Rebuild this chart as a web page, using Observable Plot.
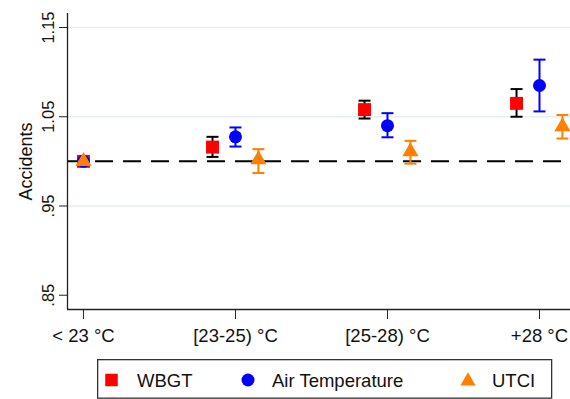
<!DOCTYPE html>
<html>
<head>
<meta charset="utf-8">
<script src="https://cdn.jsdelivr.net/npm/d3@7"></script>
<script src="https://cdn.jsdelivr.net/npm/@observablehq/plot@0.6"></script>
<style>
  html, body { margin: 0; padding: 0; background: white; }
  #wrap { position: relative; width: 570px; height: 399px; font-family: "Liberation Sans", Arial, Helvetica, sans-serif; }
  #legend { position: absolute; left: 97px; top: 359px; }
</style>
</head>
<body>
<div id="wrap"><div id="chart"></div><div id="legend"></div></div>
<script>
// Data
const categories = ["< 23 °C", "[23-25) °C", "[25-28) °C", "+28 °C"];
const seriesNames = ["WBGT", "Air Temperature", "UTCI"];
const seriesColors = ["#ff0000", "#0000ff", "#ff7f00"];
const ciColors = ["#000000", "#0000ff", "#ff7f00"];

const wbgt   = [1.000, 1.016, 1.058, 1.065];
const wbgtLo = [1.000, 1.005, 1.048, 1.050];
const wbgtHi = [1.000, 1.0275, 1.068, 1.081];

const air    = [1.000, 1.0275, 1.040, 1.085];
const airLo  = [1.000, 1.0166, 1.027, 1.056];
const airHi  = [1.000, 1.038, 1.054, 1.114];

const utci   = [1.000, 1.002, 1.011, 1.039];
const utciLo = [1.000, 0.987, 0.9975, 1.0256];
const utciHi = [1.000, 1.0137, 1.023, 1.052];

const yTicks = [0.85, 0.95, 1.05, 1.15];
const yTickLabels = [".85", ".95", "1.05", "1.15"];
const gridTicks = [0.95, 1.05, 1.15];
const yLabel = "Accidents";
const refLine = 1;

// build table
const est = [wbgt, air, utci], lo = [wbgtLo, airLo, utciLo], hi = [wbgtHi, airHi, utciHi];
const shift = [-0.151, 0, 0.151];
const rows = [];
seriesNames.forEach((s, si) => {
  categories.forEach((c, ci) => {
    rows.push({series: s, si, cat: ci, x: ci === 0 ? 0 : ci + shift[si],
               v: est[si][ci], lo: lo[si][ci], hi: hi[si][ci]});
  });
});

const xDomain = [-0.105, 3.204];
const yDomain = [0.834, 1.1657];

const capSymbol = { draw(ctx) { ctx.moveTo(-6, 0); ctx.lineTo(6, 0); } };
const symbols = ["square", "circle", "triangle"];
const radii = [7.3, 6.5, 6.0];

const marks = [
  Plot.ruleY(gridTicks, {stroke: "#e6eef1", strokeWidth: 1.5}),
  Plot.ruleY([refLine], {stroke: "#000", strokeWidth: 2, strokeDasharray: "18,10"}),
  Plot.ruleX([xDomain[0]], {stroke: "#222", strokeWidth: 1.3}),
  Plot.ruleY([yDomain[0]], {stroke: "#222", strokeWidth: 1.3}),
  Plot.axisY({ticks: yTicks, tickSize: 8, tickFormat: () => "", stroke: "#222", label: null}),
  Plot.text(yTicks, {x: xDomain[0], y: d => d, text: (d, i) => yTickLabels[i], rotate: -90, dx: -19, fontSize: 16.5, fill: "#111"}),
  Plot.text([yLabel], {frameAnchor: "left", rotate: -90, dx: -41, fontSize: 18, textAnchor: "middle", fill: "#111"}),
  Plot.axisX({ticks: [0, 1, 2, 3], tickFormat: i => categories[i], tickSize: 10, tickPadding: 9, fontSize: 18.5, stroke: "#222", fill: "#111", label: null})
];
seriesNames.forEach((s, si) => {
  const d = rows.filter(r => r.si === si && r.cat > 0);
  marks.push(Plot.ruleX(d, {x: "x", y1: "lo", y2: "hi", stroke: ciColors[si], strokeWidth: 2}));
  marks.push(Plot.dot(d, {x: "x", y: "hi", symbol: capSymbol, stroke: ciColors[si], strokeWidth: 2, r: 1}));
  marks.push(Plot.dot(d, {x: "x", y: "lo", symbol: capSymbol, stroke: ciColors[si], strokeWidth: 2, r: 1}));
});
seriesNames.forEach((s, si) => {
  const d = rows.filter(r => r.si === si);
  marks.push(Plot.dot(d, {x: "x", y: "v", symbol: symbols[si], r: radii[si], fill: seriesColors[si], stroke: "none"}));
});

const chart = Plot.plot({
  width: 570,
  height: 355,
  marginLeft: 67,
  marginRight: 0,
  marginTop: 13,
  marginBottom: 46,
  x: {type: "linear", domain: xDomain, axis: null, label: null},
  y: {type: "linear", domain: yDomain, axis: null, label: null},
  style: {fontFamily: '"Liberation Sans", Arial, Helvetica, sans-serif', background: "white", overflow: "visible"},
  marks
});
document.getElementById("chart").appendChild(chart);

// Legend
const lg = d3.select("#legend").append("svg").attr("width", 456).attr("height", 40)
  .style("font-family", '"Liberation Sans", Arial, Helvetica, sans-serif');
lg.append("rect").attr("x", 0.65).attr("y", 0.65).attr("width", 454).attr("height", 38.5)
  .attr("fill", "white").attr("stroke", "#333").attr("stroke-width", 1.3);
const cy = 21;
const swX = [14.5, 151, 371];
const txX = [40, 175, 395];
lg.append("rect").attr("x", swX[0] - 6.25).attr("y", cy - 6.25).attr("width", 12.5).attr("height", 12.5).attr("fill", seriesColors[0]);
lg.append("circle").attr("cx", swX[1]).attr("cy", cy).attr("r", 6.5).attr("fill", seriesColors[1]);
lg.append("path").attr("d", d3.symbol(d3.symbolTriangle, 100)()).attr("transform", `translate(${swX[2]},${cy + 1})`).attr("fill", seriesColors[2]);
seriesNames.forEach((s, i) => {
  lg.append("text").attr("x", txX[i]).attr("y", 28.3).attr("font-size", 18.5).attr("fill", "#111").text(s);
});
</script>
</body>
</html>
